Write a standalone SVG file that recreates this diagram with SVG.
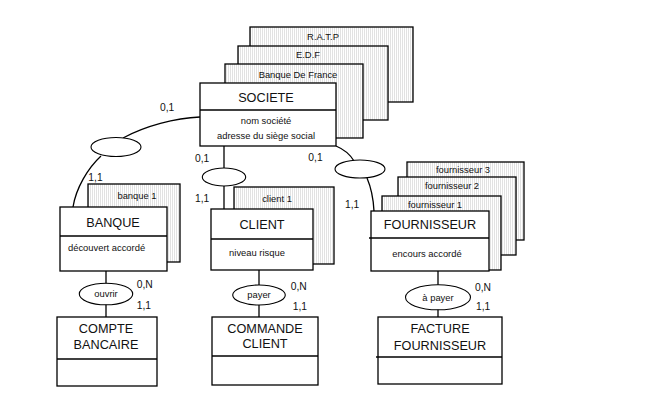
<svg xmlns="http://www.w3.org/2000/svg" width="669" height="405" viewBox="0 0 669 405">
<defs>
<pattern id="stripe" width="2" height="4" patternUnits="userSpaceOnUse"><rect width="2" height="4" fill="#fff"/><rect width="1" height="4" fill="#e2e2e2"/></pattern>
<style>
.bk{fill:url(#stripe);stroke:#000;stroke-width:1.3}
.fr{fill:#fff;stroke:#000;stroke-width:1.3}
.ln{fill:none;stroke:#000;stroke-width:1.3}
.el{fill:#fff;stroke:#000;stroke-width:1.1}
text{font-family:"Liberation Sans",Arial,sans-serif;fill:#111}
.t{font-size:12.7px;text-anchor:middle}
.s{font-size:9.4px;text-anchor:middle}
.c{font-size:10.3px}
</style>
</defs>
<rect width="669" height="405" fill="#fff"/>
<g id="connectors">
<path class="ln" d="M200,117 C175,118 145,126 123,138"/>
<path class="ln" d="M101,156 C88,168 76,188 73,207"/>
<line class="ln" x1="224" y1="146" x2="224" y2="168"/>
<line class="ln" x1="224" y1="186" x2="224" y2="209"/>
<path class="ln" d="M336,146 Q348,151 354,161"/>
<path class="ln" d="M367,178 Q373,192 374,211"/>
<line class="ln" x1="106" y1="271" x2="106" y2="317"/>
<line class="ln" x1="259" y1="270" x2="259" y2="317"/>
<line class="ln" x1="438" y1="271" x2="438" y2="317"/>
<ellipse class="el" cx="116" cy="147" rx="25" ry="9.5"/>
<ellipse class="el" cx="224" cy="177" rx="21.7" ry="9"/>
<ellipse class="el" cx="360" cy="169" rx="25" ry="9"/>
<text class="c" x="160" y="110.7">0,1</text>
<text class="c" x="88.3" y="180.7">1,1</text>
<text class="c" x="195" y="162.3">0,1</text>
<text class="c" x="195" y="202.3">1,1</text>
<text class="c" x="308.3" y="161">0,1</text>
<text class="c" x="345" y="208.3">1,1</text>
</g>
<g id="societe">
<rect class="bk" x="250" y="27" width="163" height="75"/>
<text class="s" x="323" y="40">R.A.T.P</text>
<rect class="bk" x="238" y="46" width="150" height="74"/>
<text class="s" x="308" y="58.3">E.D.F</text>
<rect class="bk" x="225" y="64" width="138" height="74"/>
<text class="s" x="298" y="78.3">Banque De France</text>
<rect class="fr" x="200" y="83" width="136" height="63"/>
<line class="ln" x1="200" y1="110" x2="336" y2="110"/>
<text class="t" x="266" y="101.7">SOCIETE</text>
<text class="s" x="266" y="124">nom société</text>
<text class="s" x="266" y="139">adresse du siège social</text>
</g>
<g id="banque">
<rect class="bk" x="88" y="184" width="92" height="78"/>
<text class="s" x="137" y="199.3">banque 1</text>
<rect class="fr" x="60" y="207" width="107" height="64"/>
<line class="ln" x1="60" y1="236" x2="167" y2="236"/>
<text class="t" x="113" y="226.7">BANQUE</text>
<text class="s" x="68" y="250.7" style="text-anchor:start">découvert accordé</text>
</g>
<g id="client">
<rect class="bk" x="234" y="187" width="100" height="77"/>
<text class="s" x="277" y="202.3">client 1</text>
<rect class="fr" x="211" y="209" width="102" height="61"/>
<line class="ln" x1="211" y1="239" x2="313" y2="239"/>
<text class="t" x="262" y="229.3">CLIENT</text>
<text class="s" x="257" y="256">niveau risque</text>
</g>
<g id="fournisseur">
<rect class="bk" x="407" y="162" width="117" height="78"/>
<text class="s" x="463" y="173.3">fournisseur 3</text>
<rect class="bk" x="398" y="177" width="118" height="78"/>
<text class="s" x="452" y="189">fournisseur 2</text>
<rect class="bk" x="382" y="196" width="119" height="74"/>
<text class="s" x="435" y="207.7">fournisseur 1</text>
<rect class="fr" x="371" y="211" width="118" height="60"/>
<line class="ln" x1="369" y1="238" x2="489" y2="238"/>
<text class="t" x="430" y="229.3">FOURNISSEUR</text>
<text class="s" x="427" y="257.3">encours accordé</text>
</g>
<g id="ouvrir">
<ellipse class="el" cx="106" cy="294" rx="26.7" ry="10.8"/>
<text class="s" x="106" y="297.3">ouvrir</text>
<text class="c" x="136.7" y="288.3">0,N</text>
<text class="c" x="136.7" y="309.3">1,1</text>
</g>
<g id="compte">
<rect class="fr" x="57" y="317" width="100" height="69"/>
<line class="ln" x1="57" y1="359" x2="157" y2="359"/>
<text class="t" x="106" y="333.3">COMPTE</text>
<text class="t" x="106" y="349">BANCAIRE</text>
</g>
<g id="payer">
<ellipse class="el" cx="259" cy="295" rx="26.3" ry="10"/>
<text class="s" x="259" y="298">payer</text>
<text class="c" x="290.7" y="290">0,N</text>
<text class="c" x="292.7" y="310">1,1</text>
</g>
<g id="commande">
<rect class="fr" x="212" y="317" width="106" height="68"/>
<line class="ln" x1="212" y1="356" x2="318" y2="356"/>
<text class="t" x="265" y="333.3">COMMANDE</text>
<text class="t" x="265" y="348.3">CLIENT</text>
</g>
<g id="apayer">
<ellipse class="el" cx="438" cy="297.3" rx="32.5" ry="12.5"/>
<text class="s" x="438" y="300.7">à payer</text>
<text class="c" x="475" y="290.7">0,N</text>
<text class="c" x="476" y="310">1,1</text>
</g>
<g id="facture">
<rect class="fr" x="378" y="317" width="124" height="67"/>
<line class="ln" x1="376" y1="357" x2="502" y2="357"/>
<text class="t" x="440" y="333.3">FACTURE</text>
<text class="t" x="440" y="350">FOURNISSEUR</text>
</g>
</svg>
